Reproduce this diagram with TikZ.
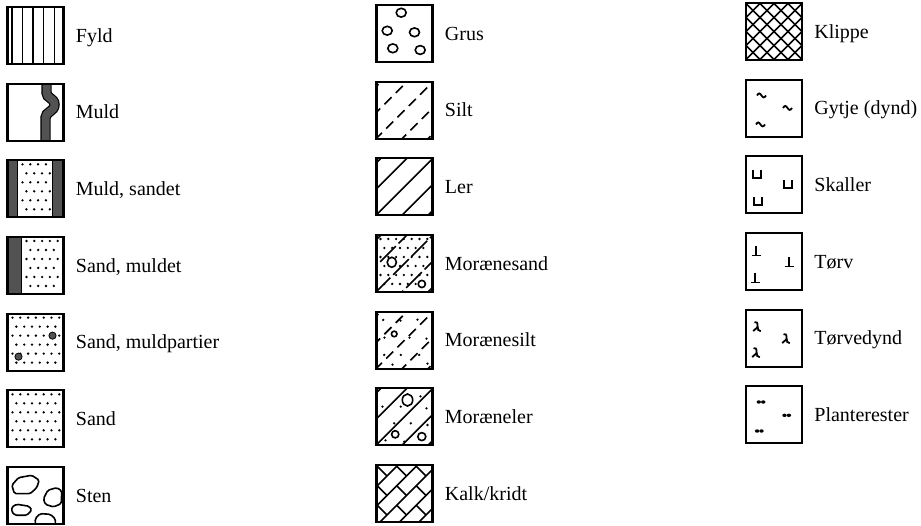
\documentclass[tikz,border=0pt]{standalone}
\usepackage{fontspec}
\setmainfont{Liberation Serif}
\usetikzlibrary{positioning}

\definecolor{muldgray}{gray}{0.32}

% staggered sand dots between x = #1 and x = #2 (box units)
\newcommand\sanddots[2]{%
  \foreach \r in {0,...,5}{%
    \foreach \c in {0,...,8}{%
      \pgfmathsetmacro\dotx{#1+\c*7.8+mod(\r,2)*3.9}%
      \ifdim\dotx pt<#2pt \fill (\dotx,{4+\r*9}) circle[radius=0.65pt];\fi
    }}}

\begin{document}
\begin{tikzpicture}[
    x=0.5pt, y=-0.5pt,
    node distance=9.83pt,
    legbox/.style={
        rectangle,
        minimum width=28pt,
        minimum height=28.5pt,
        inner sep=0pt,
        outer sep=0pt
    },
    leglabel/.style={
        font=\fontsize{10pt}{12pt}\selectfont,
        inner sep=0pt,
        text height=6.6pt,
        text depth=0pt
    },
    frame/.style={line width=1.1pt},
    hatch/.style={line width=0.8pt},
    grain/.style={line width=0.8pt},
    mark line/.style={line width=0.9pt},
    muldband/.style={line width=0.6pt, double=muldgray, double distance=4pt},
    in box/.style={shift={(#1.north west)}},
    diag/.style={shift={(28,28.5)}, rotate=45}
]
\useasboundingbox (0,0) rectangle (921,525);

% Column 1
\node[legbox] (fyld) at (35.5,35.5) {};
\node[legbox, below=of fyld] (muld) {};
\node[legbox, below=of muld] (muldsandet) {};
\node[legbox, below=of muldsandet] (sandmuldet) {};
\node[legbox, below=of sandmuldet] (sandpartier) {};
\node[legbox, below=of sandpartier] (sand) {};
\node[legbox, below=of sand] (sten) {};

\node[leglabel, right=6pt of fyld] (fyldtxt) {Fyld};
\node[leglabel, right=6pt of muld] (muldtxt) {Muld};
\node[leglabel, right=6pt of muldsandet] (muldsandettxt) {Muld, sandet};
\node[leglabel, right=6pt of sandmuldet] (sandmuldettxt) {Sand, muldet};
\node[leglabel, right=6pt of sandpartier] (sandpartiertxt) {Sand, muldpartier};
\node[leglabel, right=6pt of sand] (sandtxt) {Sand};
\node[leglabel, right=6pt of sten] (stentxt) {Sten};

% Column 2
\node[legbox] (grus) at (404.5,33.5) {};
\node[legbox, below=of grus] (silt) {};
\node[legbox, below=of silt] (ler) {};
\node[legbox, below=of ler] (moraenesand) {};
\node[legbox, below=of moraenesand] (moraenesilt) {};
\node[legbox, below=of moraenesilt] (moraeneler) {};
\node[legbox, below=of moraeneler] (kalk) {};

\node[leglabel, right=6pt of grus] (grustxt) {Grus};
\node[leglabel, right=6pt of silt] (silttxt) {Silt};
\node[leglabel, right=6pt of ler] (lertxt) {Ler};
\node[leglabel, right=6pt of moraenesand] (moraenesandtxt) {Morænesand};
\node[leglabel, right=6pt of moraenesilt] (moraenesilttxt) {Morænesilt};
\node[leglabel, right=6pt of moraeneler] (moraenelertxt) {Moræneler};
\node[leglabel, right=6pt of kalk] (kalktxt) {Kalk/kridt};

% Column 3
\node[legbox] (klippe) at (774,31.5) {};
\node[legbox, below=of klippe] (gytje) {};
\node[legbox, below=of gytje] (skaller) {};
\node[legbox, below=of skaller] (toerv) {};
\node[legbox, below=of toerv] (toervedynd) {};
\node[legbox, below=of toervedynd] (planterester) {};

\node[leglabel, right=6pt of klippe] (klippetxt) {Klippe};
\node[leglabel, right=6pt of gytje] (gytjetxt) {Gytje (dynd)};
\node[leglabel, right=6pt of skaller] (skallertxt) {Skaller};
\node[leglabel, right=6pt of toerv] (toervtxt) {Tørv};
\node[leglabel, right=6pt of toervedynd] (toervedyndtxt) {Tørvedynd};
\node[leglabel, right=6pt of planterester] (planterestertxt) {Planterester};

% Fill patterns (box units, origin top left, y down)
\begin{scope}[in box=fyld]
  \foreach \x in {4.5,15,25.5,36,47} \draw[hatch] (\x,0) -- (\x,57);
\end{scope}

\begin{scope}[in box=muld]
  \clip (0,0) rectangle (56,57);
  \draw[muldband] (39,-2) -- (39,9) .. controls (39,15) and (47,14) .. (47,21)
    .. controls (47,28) and (38,28) .. (38,34) -- (38,59);
\end{scope}

\begin{scope}[in box=muldsandet]
  \fill[muldgray] (0,0) rectangle (10,57) (45,0) rectangle (56,57);
  \draw[grain] (10,0) -- (10,57) (45,0) -- (45,57);
  \sanddots{15}{43}
\end{scope}

\begin{scope}[in box=sandmuldet]
  \fill[muldgray] (0,0) rectangle (14,57);
  \draw[grain] (14,0) -- (14,57);
  \sanddots{19}{54}
\end{scope}

\begin{scope}[in box=sandpartier]
  \sanddots{5}{53}
  \filldraw[muldgray, draw=black, line width=0.4pt] (45,22) circle[radius=1.8pt] (11,43) circle[radius=1.8pt];
\end{scope}

\begin{scope}[in box=sand]
  \sanddots{5}{53}
\end{scope}

\begin{scope}[in box=sten, rounded corners=0.8pt]
  \clip (0,0) rectangle (56,57);
  \draw[grain] (4.3,18.3) -- (11,10.7) -- (24.3,8.3) -- (31.7,13.3) -- (29.3,20.7) -- (22.7,26.7) -- (7,26.7) -- cycle;
  \draw[grain] (36,31.7) -- (40.3,23.3) -- (49.3,20.7) -- (54.3,24) -- (53.7,36.7) -- (46,40) -- (37.7,37.3) -- cycle;
  \draw[grain] (4.3,40) -- (9.3,37.3) -- (21.7,39.3) -- (24.3,43.3) -- (19.3,48.3) -- (7.7,48.3) -- (4.3,45) -- cycle;
  \draw[grain] (27.7,51.7) -- (32.7,46.7) -- (42.7,47.3) -- (47.7,51.7) -- (48,59) -- (28,59) -- cycle;
\end{scope}

\begin{scope}[in box=grus]
  \foreach \p in {(24.7,7.7),(10.7,25.7),(38,27.3),(16.3,43.3),(43.7,45)}
    \draw[grain] \p circle[x radius=2.5pt, y radius=2.2pt];
\end{scope}

\begin{scope}[in box=silt]
  \clip (0,0) rectangle (56,57);
  \begin{scope}[diag]
    \foreach \k in {-2,...,2} \draw[hatch, dash pattern=on 5pt off 3pt] (-42,\k*18.4) -- (42,\k*18.4);
  \end{scope}
\end{scope}

\begin{scope}[in box=ler]
  \clip (0,0) rectangle (56,57);
  \begin{scope}[diag]
    \foreach \k in {-2,...,2} \draw[hatch] (-42,\k*18.4) -- (42,\k*18.4);
  \end{scope}
\end{scope}

\begin{scope}[in box=moraenesand]
  \clip (0,0) rectangle (56,57);
  \sanddots{4}{54}
  \begin{scope}[diag]
    \foreach \k in {-2,...,2} \draw[hatch, dash pattern=on 11pt off 2pt] (-42,\k*18.4) -- (42,\k*18.4);
  \end{scope}
  \filldraw[grain, fill=white] (15.3,27.3) circle[x radius=2.3pt, y radius=2.5pt]
    (45.3,49) circle[radius=1.8pt];
\end{scope}

\begin{scope}[in box=moraenesilt]
  \clip (0,0) rectangle (56,57);
  \foreach \p in {(6.7,8.3),(24,9),(41,8),(8,26),(33,26),(50,27),(7.7,43.3),(24.3,43.3),(42.7,43.3),(51,52),(16,53)}
    \fill \p circle[radius=0.65pt];
  \begin{scope}[diag]
    \foreach \k in {-2,...,2} \draw[hatch, dash pattern=on 5pt off 3pt] (-42,\k*18.4) -- (42,\k*18.4);
  \end{scope}
  \filldraw[grain, fill=white] (17.7,22.3) circle[radius=1.4pt];
\end{scope}

\begin{scope}[in box=moraeneler]
  \clip (0,0) rectangle (56,57);
  \foreach \p in {(6,18.3),(24.3,18.3),(44,8),(17.7,35),(34.3,35),(51,36.7),(27.7,53.3),(9,52),(50,20)}
    \fill \p circle[radius=0.65pt];
  \begin{scope}[diag]
    \foreach \k in {-2,...,2} \draw[hatch] (-42,\k*18.4) -- (42,\k*18.4);
  \end{scope}
  \filldraw[grain, fill=white] (31,11.7) circle[x radius=2.6pt, y radius=3pt]
    (18.7,46) circle[radius=1.8pt] (45.3,48.3) circle[radius=2pt];
\end{scope}

\begin{scope}[in box=kalk]
  \clip (0,0) rectangle (56,57);
  \begin{scope}[diag]
    \foreach \k in {-3,...,3} \draw[hatch] (-42,{2.8+\k*13.8}) -- (42,{2.8+\k*13.8});
    \foreach \k in {-3,...,2}
      \foreach \j in {-2,...,2}
        \draw[hatch] ({\j*27.6+mod(\k+3,2)*13.8},{2.8+\k*13.8}) -- ++(0,13.8);
  \end{scope}
\end{scope}

\begin{scope}[in box=klippe]
  \clip (0,0) rectangle (56,57);
  \begin{scope}[diag]
    \foreach \k in {-4,...,4} {
      \draw[hatch] (-42,\k*9.9) -- (42,\k*9.9);
      \draw[hatch] (\k*9.9,-42) -- (\k*9.9,42);
    }
  \end{scope}
\end{scope}

% Small marks (each drawn round its own centre)
\begin{scope}[in box=gytje]
  \foreach \p in {(15.5,15),(41.5,27.5),(14.5,44)}
    \draw[mark line] \p ++(-4.5,0.8) sin ++(2.25,-2) cos ++(2.25,2) sin ++(2.25,2) cos ++(2.25,-2);
\end{scope}

\begin{scope}[in box=skaller]
  \foreach \p in {(11,18),(42,28),(12,45)}
    \draw[mark line] \p ++(-4,-4) -- ++(0,8) -- ++(8,0) -- ++(0,-8);
\end{scope}

\begin{scope}[in box=toerv]
  \foreach \p in {(10,18),(43,29),(9,45)}
    \draw[mark line] \p ++(0,-5) -- ++(0,9.5) \p ++(-4.5,4.5) -- ++(9,0);
\end{scope}

\begin{scope}[in box=toervedynd]
  \foreach \px/\py in {11/17,40/29,10/43} {
    \begin{scope}[shift={(\px,\py)}]
      \draw[mark line] (-2.5,-4.5) .. controls (-0.5,-5.5) and (0.8,-4) .. (0.6,0)
        .. controls (0.5,3) and (1.5,4.5) .. (3.8,4.5);
      \draw[mark line] (-3.8,4.5) -- (0.5,0.5);
    \end{scope}
  }
\end{scope}

\begin{scope}[in box=planterester]
  \foreach \p in {(15,15.7),(40.7,29),(13.3,44.7)} {
    \fill \p ++(-2.2,0) circle[x radius=1.1pt, y radius=0.85pt];
    \fill \p ++(2.2,0) circle[x radius=1.1pt, y radius=0.85pt];
  }
\end{scope}

% Box frames on top
\foreach \n in {fyld,muld,muldsandet,sandmuldet,sandpartier,sand,sten,
                grus,silt,ler,moraenesand,moraenesilt,moraeneler,kalk,
                klippe,gytje,skaller,toerv,toervedynd,planterester}
  \draw[frame] (\n.north west) rectangle (\n.south east);

\end{tikzpicture}
\end{document}
